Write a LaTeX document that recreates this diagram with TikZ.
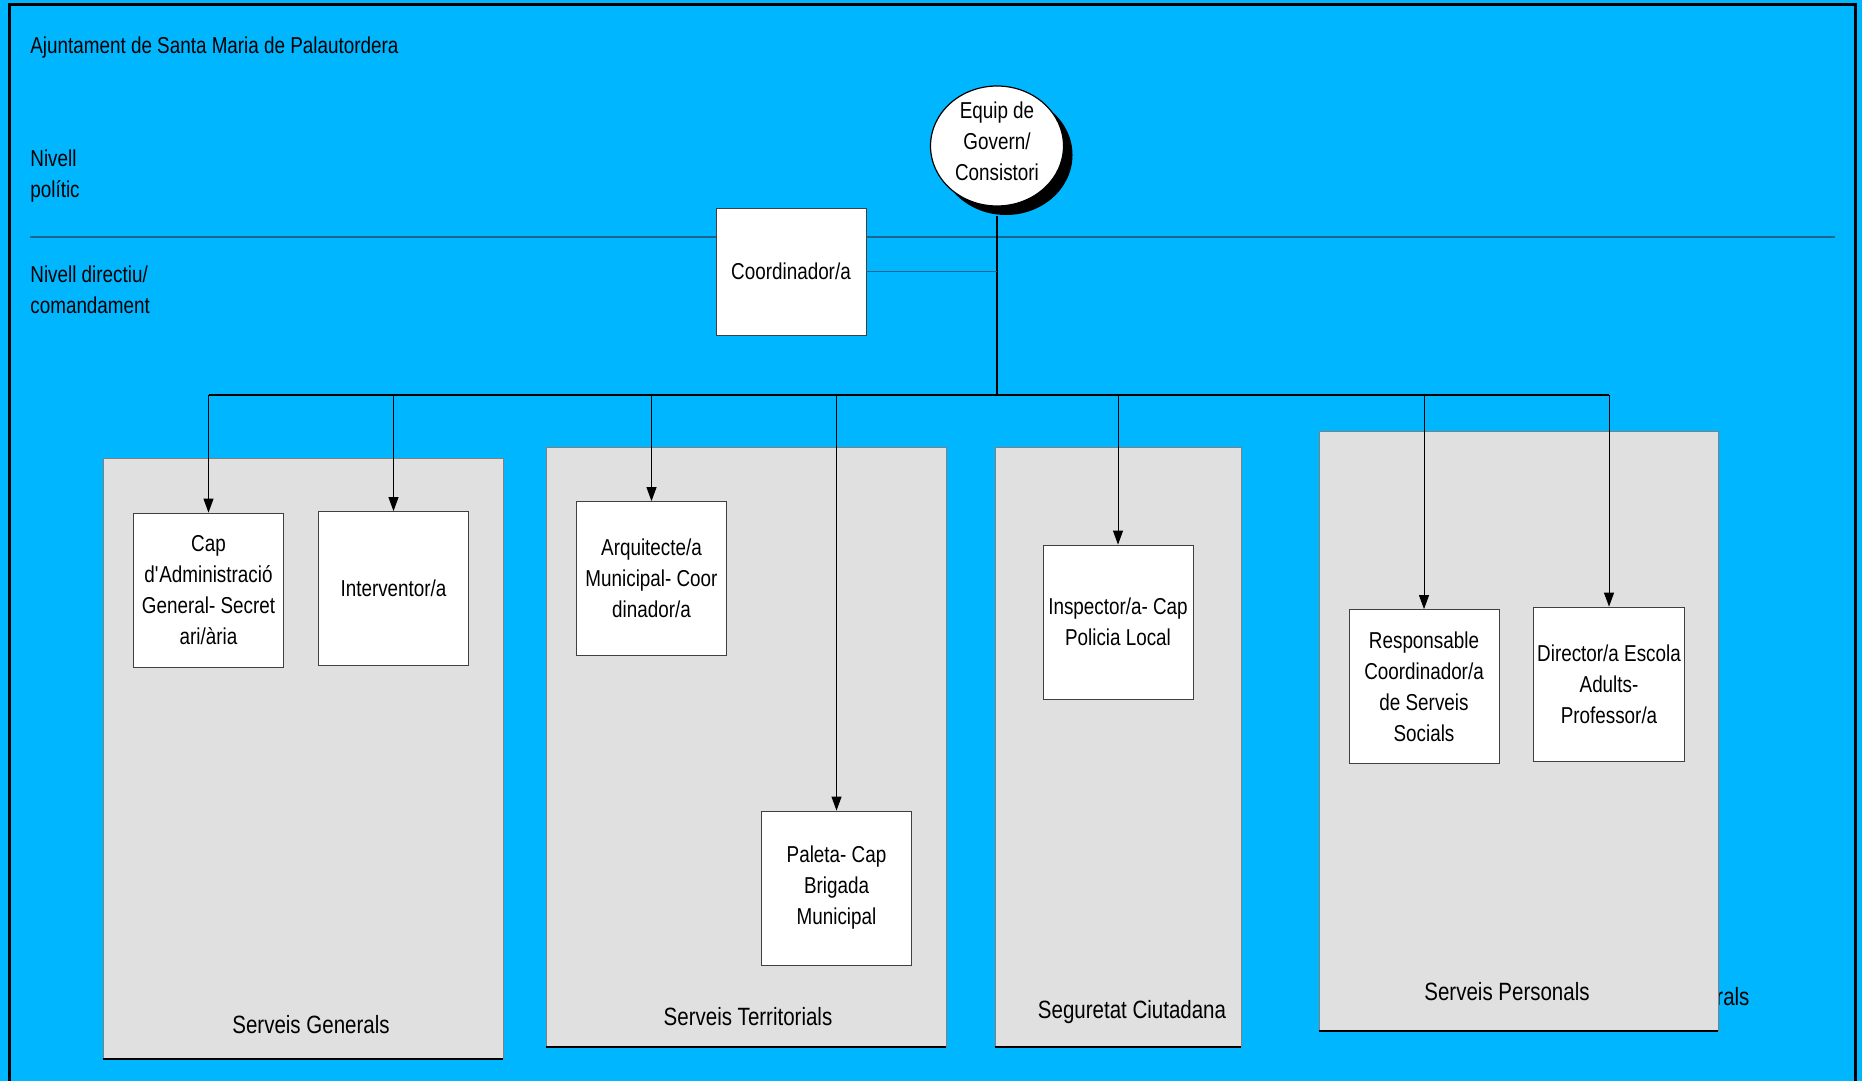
\documentclass[tikz,border=0pt]{standalone}
\usepackage{fontspec}
\setmainfont{Liberation Sans}[FakeStretch=0.82]
\usetikzlibrary{arrows.meta,shapes.geometric,shadows}
\definecolor{skyblue}{RGB}{0,182,255}
\definecolor{panelgray}{RGB}{224,224,224}
\definecolor{rulecol}{RGB}{30,100,140}
\begin{document}
\begin{tikzpicture}[x=0.5pt,y=-0.5pt,
  font=\fontsize{11.5}{15.5}\selectfont,
  area/.style={draw=gray,fill=panelgray,minimum height=300pt,inner sep=0pt},
  post/.style={draw=black!75,fill=white,minimum width=75pt,minimum height=77pt,align=center,inner sep=2pt},
  area label/.style={font=\fontsize{12.5}{15}\selectfont},
  side text/.style={anchor=west,align=left,inner sep=0pt},
  bus/.style={line width=1pt},
  thin rule/.style={rulecol,line width=0.6pt},
  arr/.style={line width=0.5pt,-{Triangle[width=5pt,length=7pt]}}]
\useasboundingbox (0,0) rectangle (1862,1081);
\fill[skyblue] (0,0) rectangle (1862,1081);
\draw[line width=1.5pt] (9,1081) -- (9,5) -- (1855,5) -- (1855,1081);
% levels
\node[side text] (title) at (30,48) {Ajuntament de Santa Maria de Palautordera};
\node[side text] (polit) at (30,176.5) {Nivell\\polític};
\node[side text] (direct) at (30,289.5) {Nivell directiu/\\comandament};
\draw[thin rule] (30,237) -- (1835,237);
% areas
\node[side text,area label] (rals) at (1716,997) {rals};
\node[area,minimum width=200pt] (gen) at (303,758.5) {};
\node[area,minimum width=200pt] (terr) at (746,747) {};
\node[area,minimum width=123pt] (segu) at (1118,747) {};
\node[area,minimum width=199.5pt] (pers) at (1518.5,731) {};
\draw[line width=1pt] (gen.south west) -- (gen.south east);
\draw[line width=1pt] (terr.south west) -- (terr.south east);
\draw[line width=1pt] (segu.south west) -- (segu.south east);
\draw[line width=1pt] (pers.south west) -- (pers.south east);
\node[area label] (genl) at (311,1025) {Serveis Generals};
\node[area label] (terrl) at (748,1017) {Serveis Territorials};
\node[area label] (segul) at (1132,1012) {Seguretat Ciutadana};
\node[area label] (persl) at (1507,992) {Serveis Personals};
% top
\node[ellipse,draw,fill=white,line width=0.6pt,minimum width=66.5pt,minimum height=60pt,inner sep=0pt,
  drop shadow={shadow xshift=4.5pt,shadow yshift=-4.5pt,opacity=1,fill=black}] (gov) at (997,146) {};
\node[align=center,inner sep=0pt] (govtxt) at (997,141) {Equip de\\Govern/\\Consistori};
\node[post,minimum height=63.5pt] (coord) at (791,271.5) {Coordinador/a};
% posts
\node[post] (cap) at (208.5,590) {Cap\\d\textquotesingle Administració\\General- Secret\\ari/ària};
\node[post] (interv) at (393.5,588.5) {Interventor/a};
\node[post] (arq) at (651.5,578.5) {Arquitecte/a\\Municipal- Coor\\dinador/a};
\node[post] (paleta) at (836.5,888) {Paleta- Cap\\Brigada\\Municipal};
\node[post] (insp) at (1118,622) {Inspector/a- Cap\\Policia Local};
\node[post] (resp) at (1424,686.5) {Responsable\\Coordinador/a\\de Serveis\\Socials};
\node[post] (dir) at (1609,684) {Director/a Escola\\Adults-\\Professor/a};
% links
\coordinate (hub) at (997,395);
\draw[bus] ([yshift=-4.5pt]gov.south) -- (hub);
\draw[thin rule] (coord.east) -- (coord.east -| hub);
\draw[bus] (cap.north |- hub) -- (dir.north |- hub);
\draw[arr] (cap.north |- hub) -- (cap.north);
\draw[arr] (interv.north |- hub) -- (interv.north);
\draw[arr] (arq.north |- hub) -- (arq.north);
\draw[arr] (paleta.north |- hub) -- (paleta.north);
\draw[arr] (insp.north |- hub) -- (insp.north);
\draw[arr] (resp.north |- hub) -- (resp.north);
\draw[arr] (dir.north |- hub) -- (dir.north);
\end{tikzpicture}
\end{document}
